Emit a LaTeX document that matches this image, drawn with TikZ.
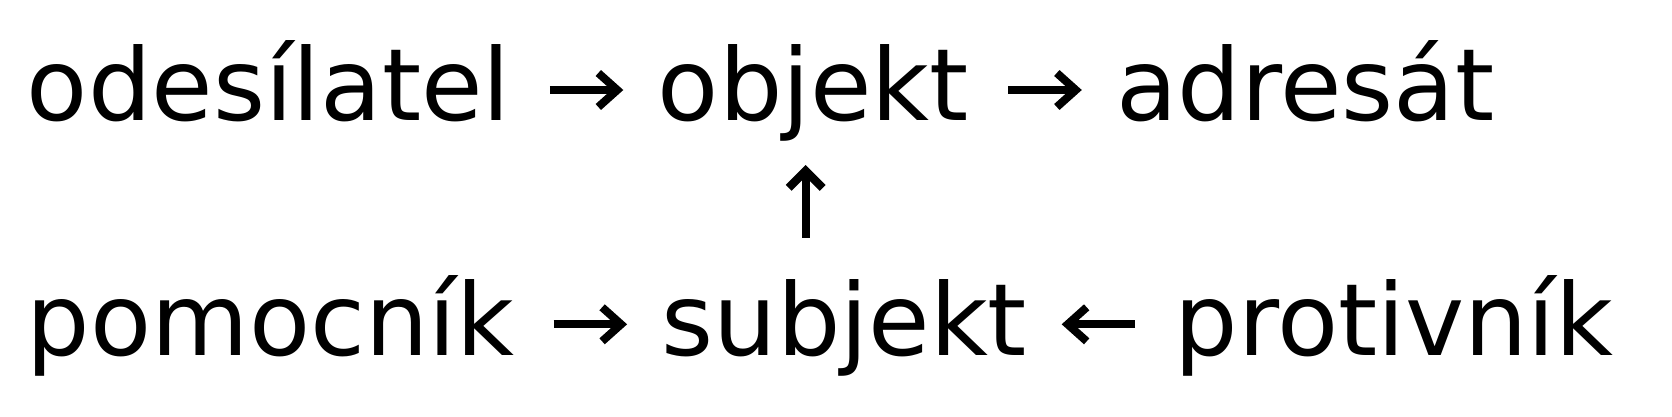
\documentclass[tikz,border=0pt]{standalone}
\usepackage{fontspec}
\setmainfont{DejaVu Sans}
\usetikzlibrary{arrows.meta}
\begin{document}
\begin{tikzpicture}[x=1pt,y=-1pt,
  word/.style={inner sep=0pt, outer sep=0pt, anchor=base west, font=\fontsize{100pt}{120pt}\selectfont},
  conn/.style={line width=8pt, -{Straight Barb[length=19pt,width=34pt]}},
  connup/.style={line width=8.3pt, -{Straight Barb[length=17pt,width=34pt]}}]
\useasboundingbox[fill=white] (0,0) rectangle (1672,416);
\node[word] (odes) at (26.8,120.7) {odesílatel};
\node[word] (obj)  at (657.9,120.7) {objekt};
\node[word] (adr)  at (1116.4,120.7) {adresát};
\node[word] (pom)  at (26.9,355) {pomocník};
\node[word] (subj) at (661.7,355) {subjekt};
\node[word] (prot) at (1174.5,355) {protivník};
\draw[conn] ([shift={(39.5,-30.7)}]odes.base east) -- ([shift={(-34.6,-30.7)}]obj.base west);
\draw[conn] ([shift={(39.5,-30.7)}]obj.base east) -- ([shift={(-34.6,-30.7)}]adr.base west);
\draw[conn] ([shift={(39.5,-30.7)}]pom.base east) -- ([shift={(-34.6,-30.7)}]subj.base west);
\draw[conn] ([shift={(-39.5,-30.7)}]prot.base west) -- ([shift={(34.6,-30.7)}]subj.base east);
\draw[connup] ([shift={(144,-117.3)}]subj.base west) -- ([shift={(147.8,44.3)}]obj.base west);
\end{tikzpicture}
\end{document}
